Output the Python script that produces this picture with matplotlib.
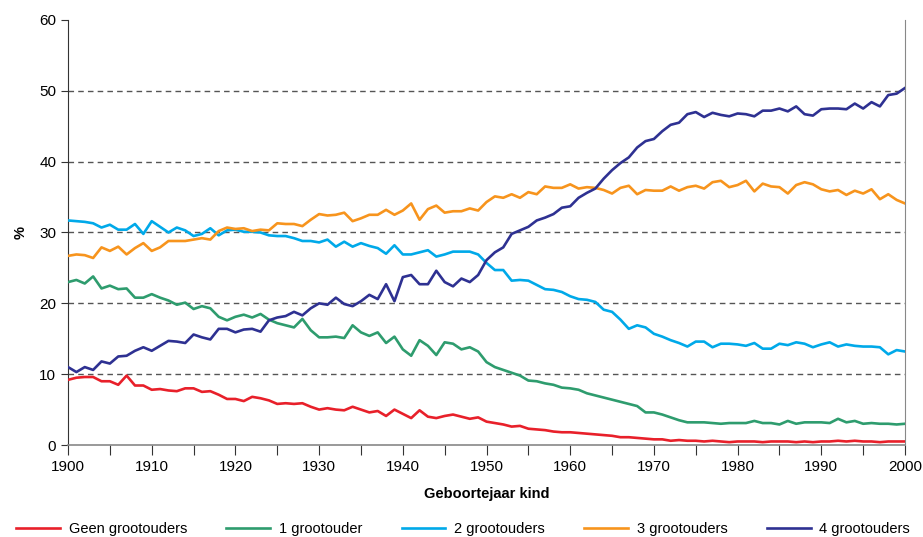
import matplotlib
matplotlib.use("Agg")
import matplotlib.pyplot as plt
from matplotlib.ticker import MultipleLocator
import numpy as np

plt.rcParams['font.family'] = ['Liberation Sans Narrow', 'Liberation Sans', 'DejaVu Sans']

years = np.arange(1900, 2001)

geen = [9.2, 9.5, 9.6, 9.6, 9.0, 9.0, 8.5, 9.8, 8.4, 8.4,
        7.8, 7.9, 7.7, 7.6, 8.0, 8.0, 7.5, 7.6, 7.1, 6.5,
        6.5, 6.2, 6.8, 6.6, 6.3, 5.8, 5.9, 5.8, 5.9, 5.4,
        5.0, 5.2, 5.0, 4.9, 5.4, 5.0, 4.6, 4.8, 4.1, 5.0,
        4.4, 3.8, 4.9, 4.0, 3.8, 4.1, 4.3, 4.0, 3.7, 3.9,
        3.3, 3.1, 2.9, 2.6, 2.7, 2.3, 2.2, 2.1, 1.9, 1.8,
        1.8, 1.7, 1.6, 1.5, 1.4, 1.3, 1.1, 1.1, 1.0, 0.9,
        0.8, 0.8, 0.6, 0.7, 0.6, 0.6, 0.5, 0.6, 0.5, 0.4,
        0.5, 0.5, 0.5, 0.4, 0.5, 0.5, 0.5, 0.4, 0.5, 0.4,
        0.5, 0.5, 0.6, 0.5, 0.6, 0.5, 0.5, 0.4, 0.5, 0.5,
        0.5]

een = [23.0, 23.3, 22.8, 23.8, 22.1, 22.5, 22.0, 22.1, 20.8, 20.8,
       21.3, 20.8, 20.4, 19.8, 20.1, 19.2, 19.6, 19.3, 18.1, 17.6,
       18.1, 18.4, 18.0, 18.5, 17.7, 17.2, 16.9, 16.6, 17.8, 16.2,
       15.2, 15.2, 15.3, 15.1, 16.9, 15.9, 15.4, 15.9, 14.4, 15.3,
       13.5, 12.6, 14.8, 14.0, 12.7, 14.5, 14.3, 13.5, 13.8, 13.2,
       11.7, 11.0, 10.6, 10.2, 9.8, 9.1, 9.0, 8.7, 8.5, 8.1,
       8.0, 7.8, 7.3, 7.0, 6.7, 6.4, 6.1, 5.8, 5.5, 4.6,
       4.6, 4.3, 3.9, 3.5, 3.2, 3.2, 3.2, 3.1, 3.0, 3.1,
       3.1, 3.1, 3.4, 3.1, 3.1, 2.9, 3.4, 3.0, 3.2, 3.2,
       3.2, 3.1, 3.7, 3.2, 3.4, 3.0, 3.1, 3.0, 3.0, 2.9,
       3.0]

twee = [31.7, 31.6, 31.5, 31.3, 30.7, 31.1, 30.4, 30.4, 31.2, 29.8,
        31.6, 30.8, 30.0, 30.7, 30.3, 29.5, 29.8, 30.6, 29.6, 30.3,
        30.4, 30.1, 30.1, 30.0, 29.6, 29.5, 29.5, 29.2, 28.8, 28.8,
        28.6, 29.0, 28.0, 28.7, 28.0, 28.5, 28.1, 27.8, 27.0, 28.2,
        26.9, 26.9, 27.2, 27.5, 26.6, 26.9, 27.3, 27.3, 27.3, 26.9,
        25.7, 24.7, 24.7, 23.2, 23.3, 23.2, 22.6, 22.0, 21.9, 21.6,
        21.0, 20.6, 20.5, 20.2, 19.1, 18.8, 17.7, 16.4, 16.9, 16.6,
        15.7, 15.3, 14.8, 14.4, 13.9, 14.6, 14.6, 13.8, 14.3, 14.3,
        14.2, 14.0, 14.4, 13.6, 13.6, 14.3, 14.1, 14.5, 14.3, 13.8,
        14.2, 14.5, 13.9, 14.2, 14.0, 13.9, 13.9, 13.8, 12.8, 13.4,
        13.2]

drie = [26.7, 26.9, 26.8, 26.4, 27.9, 27.4, 28.0, 26.9, 27.8, 28.5,
        27.4, 27.9, 28.8, 28.8, 28.8, 29.0, 29.2, 29.0, 30.2, 30.7,
        30.5, 30.6, 30.2, 30.4, 30.3, 31.3, 31.2, 31.2, 30.9, 31.8,
        32.6, 32.4, 32.5, 32.8, 31.6, 32.0, 32.5, 32.5, 33.2, 32.5,
        33.1, 34.1, 31.8, 33.3, 33.8, 32.8, 33.0, 33.0, 33.4, 33.1,
        34.3, 35.1, 34.9, 35.4, 34.9, 35.7, 35.4, 36.5, 36.3, 36.3,
        36.8, 36.2, 36.4, 36.3, 36.0, 35.5, 36.3, 36.6, 35.4, 36.0,
        35.9, 35.9, 36.5, 35.9, 36.4, 36.6, 36.2, 37.1, 37.3, 36.4,
        36.7, 37.3, 35.8, 36.9, 36.5, 36.4, 35.5, 36.7, 37.1, 36.8,
        36.1, 35.8, 36.0, 35.3, 35.9, 35.5, 36.1, 34.7, 35.4, 34.6,
        34.1]

vier = [11.0, 10.3, 11.0, 10.6, 11.8, 11.5, 12.5, 12.6, 13.3, 13.8,
        13.3, 14.0, 14.7, 14.6, 14.4, 15.6, 15.2, 14.9, 16.4, 16.4,
        15.9, 16.3, 16.4, 16.0, 17.6, 18.0, 18.2, 18.8, 18.3, 19.3,
        20.0, 19.8, 20.8, 19.9, 19.6, 20.3, 21.2, 20.6, 22.7, 20.3,
        23.7, 24.0, 22.7, 22.7, 24.6, 23.0, 22.4, 23.5, 23.0, 24.0,
        26.1, 27.2, 27.9, 29.8, 30.3, 30.8, 31.7, 32.1, 32.6, 33.5,
        33.7, 34.9, 35.6, 36.2, 37.6, 38.8, 39.8, 40.6, 42.0, 42.9,
        43.2, 44.3, 45.2, 45.5, 46.7, 47.0, 46.3, 46.9, 46.6, 46.4,
        46.8, 46.7, 46.4, 47.2, 47.2, 47.5, 47.1, 47.8, 46.7, 46.5,
        47.4, 47.5, 47.5, 47.4, 48.2, 47.5, 48.4, 47.8, 49.4, 49.6,
        50.4]

labels = ["Geen grootouders", "1 grootouder", "2 grootouders",
          "3 grootouders", "4 grootouders"]
colors = ["#e8202a", "#2e9c6e", "#00a9e9", "#f7941d", "#2e3192"]

fig = plt.figure(figsize=(9.23, 5.37), dpi=100)
ax = fig.add_axes([0.0737, 0.1713, 0.9068, 0.7915])

for yv in range(10, 60, 10):
    ax.axhline(yv, color="#555555", lw=1.0, ls=(0, (4, 3)), zorder=1)

for series, lab, col in zip([geen, een, twee, drie, vier], labels, colors):
    ax.plot(years, series, color=col, lw=1.9, label=lab, zorder=3)

ax.set_xlim(1900, 2000)
ax.set_ylim(0, 60)
ax.xaxis.set_major_locator(MultipleLocator(10))
ax.xaxis.set_minor_locator(MultipleLocator(5))
ax.yaxis.set_major_locator(MultipleLocator(10))
ax.tick_params(axis="x", which="both", direction="out", length=7, width=0.8,
               color="#333333", labelsize=11, pad=4)
ax.tick_params(axis="y", direction="out", length=5, width=0.8,
               color="#333333", labelsize=11)

ax.spines["top"].set_visible(False)
ax.spines["right"].set_color("#888888")
ax.spines["bottom"].set_color("#888888")
ax.spines["bottom"].set_linewidth(1.2)
ax.spines["left"].set_color("#333333")

ax.set_xlabel("Geboortejaar kind", fontweight="bold", fontsize=10.5, labelpad=9)
ax.set_ylabel("%", fontweight="bold", fontsize=10.5, labelpad=8)

ax.legend(loc="center", bbox_to_anchor=(0.472, -0.197), ncol=5,
          frameon=False, fontsize=10.5, handlelength=3.0, columnspacing=2.7,
          handletextpad=0.6, borderaxespad=0)

fig.savefig("out.png", dpi=100)
